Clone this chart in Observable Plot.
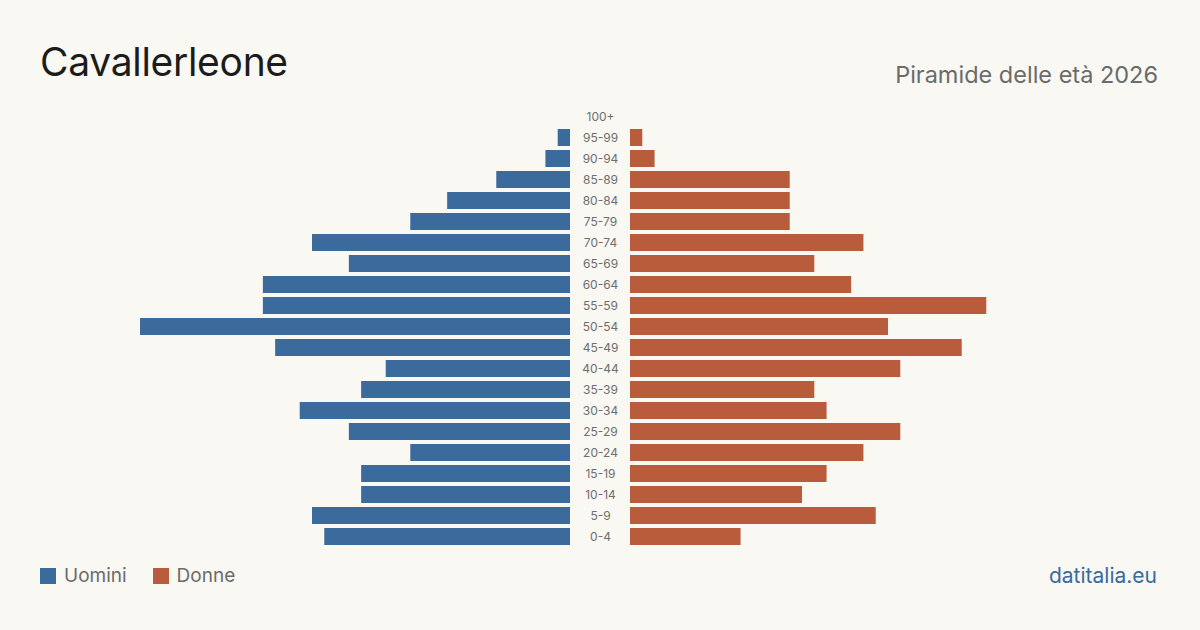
<!DOCTYPE html>
<html>
<head>
<meta charset="utf-8">
<script src="https://cdn.jsdelivr.net/npm/d3@7"></script>
<script src="https://cdn.jsdelivr.net/npm/@observablehq/plot@0.6"></script>
<style>
  html, body { margin: 0; padding: 0; background: #f9f8f3; }
  #wrap { position: relative; width: 1200px; height: 630px; background: #f9f8f3; font-family: Inter, "Open Sans", sans-serif; overflow: hidden; }
  #title { position: absolute; left: 40px; top: 42px; font-size: 39px; color: #1c1c1c; letter-spacing: -0.3px; line-height: 1; }
  #subtitle { position: absolute; right: 42px; top: 63px; font-size: 23.5px; color: #6b6b6b; line-height: 1; }
  #chart { position: absolute; left: 0; top: 0; }
  #legend { position: absolute; left: 40px; top: 566px; font-size: 19px; color: #6b6b6b; display: flex; align-items: center; line-height: 20px; }
  .sw { display: inline-block; width: 16px; height: 16px; margin-right: 8px; }
  .item { display: flex; align-items: center; margin-right: 26px; }
  #source { position: absolute; right: 43px; top: 565px; font-size: 21px; color: #3a6a9e; line-height: 22px; }
</style>
</head>
<body>
<div id="wrap">
  <div id="title">Cavallerleone</div>
  <div id="subtitle">Piramide delle età 2026</div>
  <div id="chart"></div>
  <div id="legend"></div>
  <div id="source">datitalia.eu</div>
</div>
<script>
const ageGroups = ["100+","95-99","90-94","85-89","80-84","75-79","70-74","65-69","60-64","55-59","50-54","45-49","40-44","35-39","30-34","25-29","20-24","15-19","10-14","5-9","0-4"];
const maleValues   = [0,1,2,6,10,13,21,18,25,25,35,24,15,17,22,18,13,17,17,21,20];
const femaleValues = [0,1,2,13,13,13,19,15,18,29,21,27,22,15,16,22,19,16,14,20,9];
const seriesNames = ["Uomini","Donne"];
const seriesColors = ["#3b6a9c","#b95c3c"];

const pxPerUnit = 430 / 35;
const gap = 30 / pxPerUnit;
const half = 600 / pxPerUnit;

const rows = [];
ageGroups.forEach((g, i) => {
  rows.push({age: g, sex: seriesNames[0], x1: -gap, x2: -gap - maleValues[i], v: maleValues[i]});
  rows.push({age: g, sex: seriesNames[1], x1: gap, x2: gap + femaleValues[i], v: femaleValues[i]});
});

const chart = Plot.plot({
  width: 1200,
  height: 560,
  marginLeft: 0,
  marginRight: 0,
  marginTop: 106,
  marginBottom: 13,
  style: {background: "transparent", fontFamily: "Inter, sans-serif"},
  x: {domain: [-half, half], axis: null},
  y: {domain: ageGroups, axis: null, paddingInner: 4 / 21, paddingOuter: 2 / 21, round: false},
  color: {domain: seriesNames, range: seriesColors},
  marks: [
    Plot.rectX(rows.filter(d => d.v > 0), {x1: "x1", x2: "x2", y: "age", fill: "sex"}),
    Plot.text(ageGroups, {x: 0, y: d => d, text: d => d, fontSize: 12, fill: "#6e6e6e"})
  ]
});
document.getElementById("chart").appendChild(chart);

const legend = document.getElementById("legend");
seriesNames.forEach((n, i) => {
  const item = document.createElement("div");
  item.className = "item";
  const sw = document.createElement("span");
  sw.className = "sw";
  sw.style.background = seriesColors[i];
  item.appendChild(sw);
  item.appendChild(document.createTextNode(n));
  legend.appendChild(item);
});
</script>
</body>
</html>
